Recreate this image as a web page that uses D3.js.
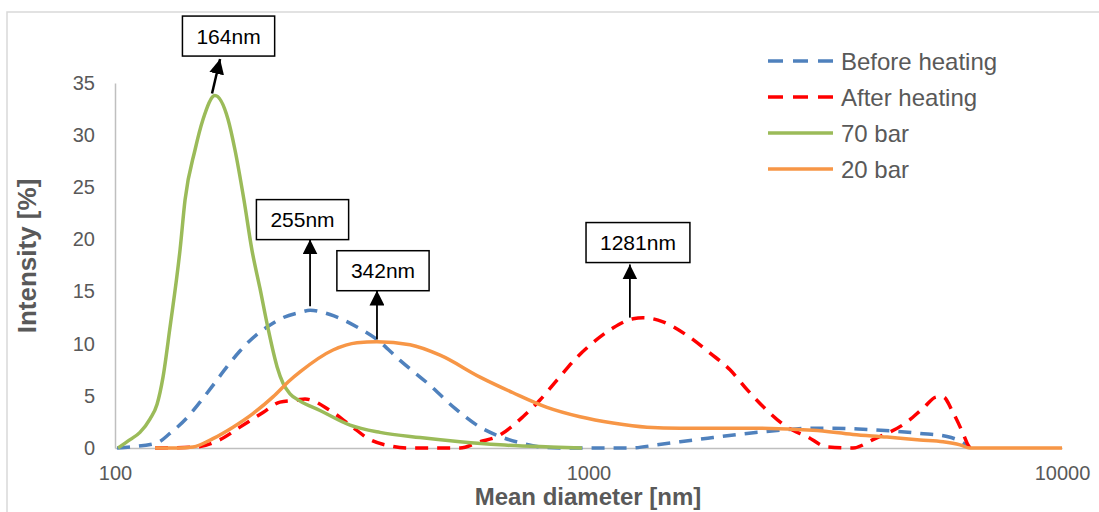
<!DOCTYPE html>
<html>
<head>
<meta charset="utf-8">
<style>
  body { margin: 0; background: #fff; }
  text { font-family: "Liberation Sans", Arial, sans-serif; }
</style>
</head>
<body>
<svg width="1099" height="512"></svg>
<script src="https://d3js.org/d3.v7.min.js"></script>
<script>
// series (diameter nm, intensity %)
var beforeD = [101, 107.6, 122.7, 130.6, 141.9, 151.2, 161, 172.4, 183.6, 199.5, 209.4, 226.4, 245.9, 258.2, 284.5, 324.4, 357.5, 399.9, 462.8, 522.5, 590.1, 650.5, 716.6, 789.8, 870.5, 1223, 1395, 1561, 1833, 2162, 2538, 2980, 3284, 3799, 4484, 5013, 5717, 6180, 6393];
var beforeV = [0, 0.1, 0.5, 1.4, 2.9, 4.4, 6.0, 7.8, 9.3, 10.9, 11.6, 12.5, 13.0, 13.2, 12.8, 11.6, 10.4, 8.4, 6.0, 3.8, 2.0, 1.1, 0.5, 0.1, 0, 0, 0.3, 0.6, 1.0, 1.4, 1.7, 1.9, 1.9, 1.8, 1.6, 1.4, 1.1, 0.5, 0];

var afterD = [121.5, 149, 166.7, 183.6, 205.4, 223.1, 242.3, 251.9, 284.5, 313.6, 345.6, 380.9, 419.9, 535.4, 590.1, 641, 727.2, 789.8, 857.9, 945.6, 1022, 1126, 1242, 1304, 1437, 1615, 1806, 1990, 2162, 2383, 2626, 2894, 3190, 3619, 3989, 4706, 5087, 5445, 5607, 5887, 6180, 6330, 6393];
var afterV = [0, 0.1, 0.8, 2.0, 3.4, 4.4, 4.6, 4.7, 3.6, 2.2, 0.8, 0.2, 0, 0, 0.6, 1.1, 3.0, 4.6, 6.5, 8.7, 10.1, 11.5, 12.4, 12.5, 12.1, 10.8, 9.1, 7.5, 5.6, 3.6, 2.0, 1.1, 0.1, 0, 0.8, 2.5, 3.8, 4.9, 4.9, 3.4, 1.4, 0.3, 0];

var bar70D = [101.5, 107.6, 112.9, 118.6, 122.7, 126.3, 130.6, 137.2, 140.6, 147.6, 153.4, 162.6, 173.3, 179.2, 187.2, 194.6, 202.4, 210.4, 219.9, 226.4, 234.2, 245.9, 271, 313.6, 362.8, 440.8, 535.4, 650.5, 829.2, 968.9];
var bar70V = [0, 0.8, 1.5, 2.8, 4.2, 6.8, 11.5, 19, 23.8, 28.6, 31.5, 33.8, 31.5, 28.6, 23.8, 19, 15.3, 11.5, 7.8, 6.2, 5.2, 4.5, 3.6, 2.2, 1.5, 1.0, 0.6, 0.3, 0.1, 0];

var bar20D = [121.5, 135.2, 146.1, 161, 177.5, 195.6, 215.6, 234.2, 245.9, 288.7, 324.4, 357.5, 419.9, 485.9, 590.1, 692.7, 817.2, 959.5, 1126, 1329, 1561, 2162, 2980, 3619, 4271, 5013, 5607, 6090, 6393, 10000];
var bar20V = [0, 0, 0.1, 0.9, 2.0, 3.3, 4.9, 6.5, 7.3, 9.4, 10.1, 10.2, 9.9, 8.9, 6.8, 5.3, 3.9, 3.0, 2.4, 2.0, 1.9, 1.9, 1.7, 1.3, 1.05, 0.77, 0.6, 0.3, 0, 0];

var seriesNames = ["Before heating", "After heating", "70 bar", "20 bar"];
var yTicks = [0, 5, 10, 15, 20, 25, 30, 35];
var xTicks = [100, 1000, 10000];

// peak call-outs: label, arrow tail, arrow tip, box centre (diameter, intensity)
var annoLabels = ["164nm", "255nm", "342nm", "1281nm"];
var annoTail = [[160.3, 34.0], [258.2, 13.6], [357.5, 10.4], [1223, 12.5]];
var annoTip = [[166.7, 37.3], [258.2, 20.0], [357.5, 15.1], [1223, 17.6]];
var annoBox = [[173.7, 39.5], [248.9, 21.9], [368.1, 17.0], [1272, 19.7]];

var svg = d3.select("svg");
var colors = ["#4f81bd", "#ff0000", "#9bbb59", "#f79646"];
var dashes = ["13,9", "13,9", null, null];

var x = d3.scaleLog().domain([100, 10000]).range([115, 1062]);
var y = d3.scaleLinear().domain([0, 35]).range([448, 83]);

// outer chart border
svg.append("rect")
    .attr("x", 7).attr("y", 12).attr("width", 1110).attr("height", 520)
    .attr("fill", "none").attr("stroke", "#d9d9d9").attr("stroke-width", 1.5);

// axes
var yAxis = svg.append("g").attr("transform", "translate(115,0)")
    .call(d3.axisLeft(y).tickValues(yTicks).tickSize(0).tickPadding(20));
var xAxis = svg.append("g").attr("transform", "translate(0,448)")
    .call(d3.axisBottom(x).tickValues(xTicks).tickFormat(d3.format("d")).tickSize(0).tickPadding(18));
[yAxis, xAxis].forEach(function(g) {
    g.select(".domain").attr("stroke", "#bfbfbf").attr("stroke-width", 1.5);
    g.selectAll("text").attr("fill", "#595959").attr("font-size", 20)
        .attr("font-family", "'Liberation Sans', Arial, sans-serif");
});

// axis titles
svg.append("text")
    .attr("transform", "translate(36,256) rotate(-90)")
    .attr("text-anchor", "middle").attr("font-size", 26).attr("font-weight", "bold")
    .attr("fill", "#595959").text("Intensity [%]");
svg.append("text")
    .attr("x", 588).attr("y", 505)
    .attr("text-anchor", "middle").attr("font-size", 24).attr("font-weight", "bold")
    .attr("fill", "#595959").text("Mean diameter [nm]");

// curves
var series = [[beforeD, beforeV], [afterD, afterV], [bar70D, bar70V], [bar20D, bar20V]];
var line = d3.line()
    .x(function(d) { return x(d[0]); })
    .y(function(d) { return y(d[1]); })
    .curve(d3.curveMonotoneX);

series.forEach(function(s, i) {
    var pts = s[0].map(function(d, j) { return [d, s[1][j]]; });
    svg.append("path")
        .attr("d", line(pts))
        .attr("fill", "none")
        .attr("stroke", colors[i])
        .attr("stroke-width", 3.5)
        .attr("stroke-linejoin", "round")
        .attr("stroke-dasharray", dashes[i]);
});

// legend
var legend = svg.append("g").attr("transform", "translate(768,61)");
seriesNames.forEach(function(name, i) {
    var row = legend.append("g").attr("transform", "translate(0," + (i * 36) + ")");
    row.append("line")
        .attr("x1", 0).attr("x2", 65).attr("y1", 0).attr("y2", 0)
        .attr("stroke", colors[i]).attr("stroke-width", 3.5)
        .attr("stroke-dasharray", dashes[i] ? "15,10" : null);
    row.append("text")
        .attr("x", 73).attr("y", 8.5)
        .attr("font-size", 24).attr("fill", "#595959").text(name);
});

// call-outs
svg.append("defs").append("marker")
    .attr("id", "head").attr("viewBox", "0 0 10 10")
    .attr("refX", 10).attr("refY", 5)
    .attr("markerWidth", 15).attr("markerHeight", 15)
    .attr("markerUnits", "userSpaceOnUse")
    .attr("orient", "auto")
    .append("path").attr("d", "M0,0L10,5L0,10Z").attr("fill", "#000");

annoLabels.forEach(function(lbl, i) {
    svg.append("line")
        .attr("x1", x(annoTail[i][0])).attr("y1", y(annoTail[i][1]))
        .attr("x2", x(annoTip[i][0])).attr("y2", y(annoTip[i][1]))
        .attr("stroke", "#000").attr("stroke-width", i === 0 ? 2.5 : 1.8)
        .attr("marker-end", "url(#head)");
    var cx = x(annoBox[i][0]), cy = y(annoBox[i][1]);
    var g = svg.append("g");
    var rect = g.append("rect").attr("fill", "#fff").attr("stroke", "#000").attr("stroke-width", 1.5);
    var t = g.append("text")
        .attr("x", cx).attr("y", cy + 7.5)
        .attr("text-anchor", "middle").attr("font-size", 21).attr("fill", "#000")
        .text(lbl);
    var w = t.node().getComputedTextLength() + 28, h = 40;
    rect.attr("x", cx - w / 2).attr("y", cy - h / 2).attr("width", w).attr("height", h);
});
</script>
</body>
</html>
